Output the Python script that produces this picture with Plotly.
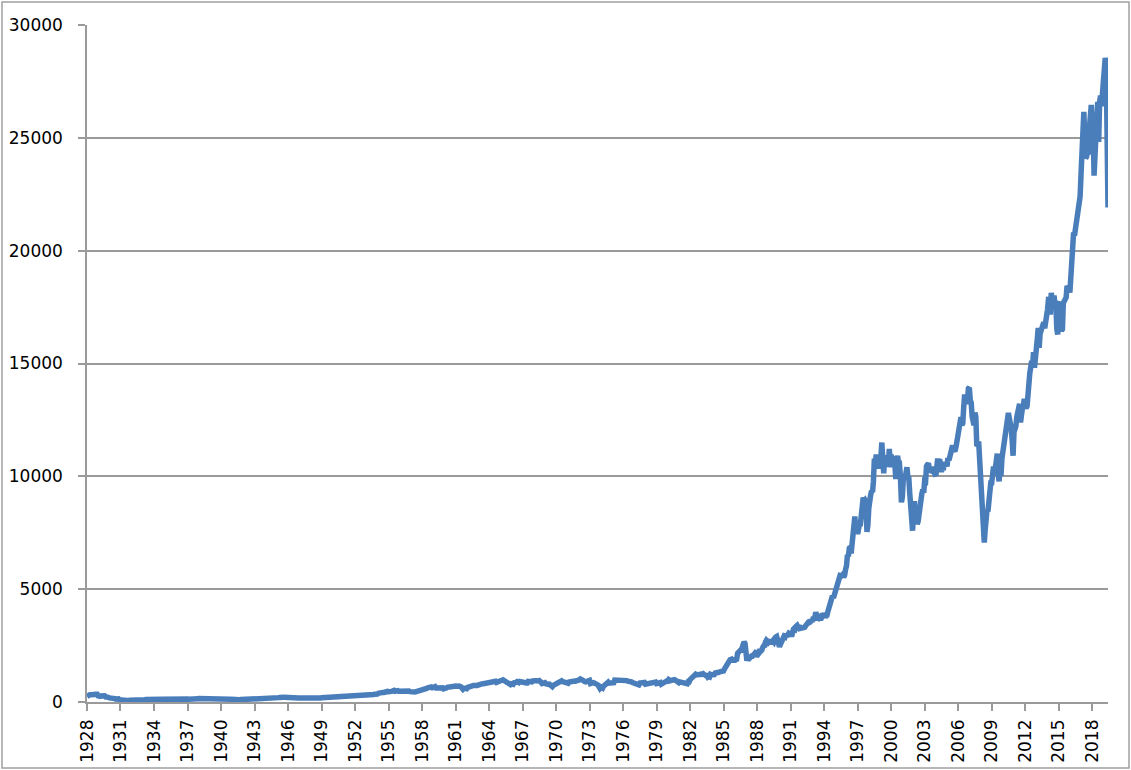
import pandas as pd
import plotly.graph_objects as go

# Monthly closing values (Oct 1928 - Mar 2020)
dow_1920s = [252, 293, 300,
             317, 317, 308, 319, 297, 333, 347, 380, 343, 273, 238, 248]
dow_1930s = [267, 271, 286, 279, 275, 226, 233, 240, 204, 183, 183, 165,
             167, 190, 172, 151, 128, 150, 135, 140, 96, 105, 93, 78,
             76, 82, 73, 56, 45, 43, 54, 73, 72, 61, 56, 60,
             61, 51, 56, 77, 89, 98, 90, 102, 94, 88, 98, 99,
             107, 104, 101, 100, 92, 95, 88, 92, 92, 93, 102, 104,
             102, 100, 100, 109, 110, 118, 126, 127, 131, 139, 142, 144,
             149, 152, 156, 145, 152, 157, 164, 166, 167, 177, 182, 180,
             185, 187, 186, 174, 175, 170, 185, 177, 154, 138, 123, 121,
             121, 129, 99, 111, 107, 134, 142, 139, 141, 151, 149, 155,
             144, 147, 132, 128, 138, 131, 143, 135, 153, 151, 146, 150]
dow_1940s = [146, 147, 148, 149, 116, 122, 126, 128, 132, 134, 131, 131,
             124, 121, 123, 116, 116, 123, 128, 127, 127, 118, 115, 111,
             109, 106, 100, 96, 101, 104, 106, 107, 109, 115, 114, 119,
             125, 131, 136, 135, 142, 143, 136, 137, 140, 138, 129, 136,
             137, 136, 138, 136, 142, 148, 146, 147, 146, 146, 147, 152,
             153, 160, 154, 165, 169, 165, 162, 174, 181, 186, 192, 193,
             204, 190, 200, 207, 212, 205, 201, 189, 172, 169, 170, 177,
             180, 178, 177, 171, 169, 178, 183, 178, 178, 182, 180, 181,
             175, 167, 177, 180, 191, 189, 181, 181, 178, 189, 171, 177,
             179, 173, 177, 174, 168, 168, 175, 179, 182, 189, 191, 200]
dow_1950s = [201, 203, 206, 214, 223, 209, 209, 217, 226, 225, 227, 235,
             249, 252, 248, 259, 250, 242, 258, 270, 271, 262, 261, 269,
             271, 260, 270, 258, 263, 274, 280, 275, 271, 269, 284, 292,
             290, 284, 280, 275, 272, 268, 275, 261, 264, 276, 281, 281,
             292, 295, 304, 319, 328, 334, 348, 336, 361, 352, 387, 404,
             409, 412, 409, 426, 425, 451, 466, 468, 467, 455, 483, 488,
             470, 484, 512, 516, 478, 493, 518, 502, 475, 480, 473, 500,
             480, 465, 475, 495, 505, 503, 509, 484, 457, 441, 450, 436,
             450, 440, 447, 456, 463, 478, 503, 509, 532, 543, 558, 584,
             594, 603, 602, 624, 644, 644, 675, 664, 632, 647, 659, 679]
dow_1960s = [623, 631, 616, 601, 625, 641, 617, 626, 580, 580, 597, 616,
             648, 662, 677, 678, 697, 684, 705, 719, 701, 704, 722, 731,
             700, 708, 706, 665, 613, 561, 598, 609, 579, 590, 649, 652,
             683, 662, 682, 718, 727, 707, 695, 729, 733, 755, 751, 763,
             785, 800, 813, 811, 821, 832, 841, 839, 875, 873, 875, 874,
             903, 904, 889, 922, 918, 868, 882, 893, 931, 961, 947, 969,
             984, 951, 924, 933, 884, 870, 847, 788, 774, 807, 792, 786,
             850, 839, 866, 897, 852, 860, 904, 901, 927, 880, 875, 905,
             856, 841, 840, 912, 899, 898, 883, 896, 936, 952, 985, 944,
             946, 905, 936, 950, 937, 873, 816, 837, 813, 856, 812, 800]
dow_1970s = [744, 778, 786, 736, 700, 684, 734, 765, 761, 756, 794, 839,
             869, 879, 904, 942, 908, 891, 858, 898, 887, 839, 831, 890,
             902, 928, 941, 954, 961, 929, 925, 964, 953, 956, 1018, 1020,
             999, 955, 951, 921, 901, 891, 926, 888, 947, 957, 822, 851,
             856, 861, 847, 837, 802, 802, 757, 679, 608, 666, 619, 616,
             704, 739, 768, 821, 832, 879, 832, 835, 794, 836, 860, 852,
             975, 973, 1000, 997, 975, 1003, 985, 974, 991, 965, 947, 1005,
             954, 948, 922, 927, 899, 916, 891, 862, 848, 818, 830, 831,
             770, 742, 757, 837, 841, 819, 862, 877, 866, 793, 799, 805,
             839, 809, 862, 855, 822, 842, 847, 888, 879, 816, 822, 839]
dow_1980s = [876, 863, 786, 817, 851, 868, 935, 933, 932, 925, 993, 964,
             947, 975, 1004, 998, 992, 977, 952, 882, 850, 853, 889, 875,
             871, 824, 823, 848, 820, 812, 809, 901, 896, 992, 1039, 1047,
             1076, 1113, 1130, 1226, 1200, 1222, 1199, 1216, 1233, 1225, 1276, 1259,
             1221, 1155, 1165, 1171, 1105, 1132, 1115, 1224, 1207, 1207, 1189, 1212,
             1287, 1284, 1267, 1258, 1315, 1336, 1348, 1334, 1329, 1375, 1472, 1547,
             1571, 1710, 1819, 1784, 1877, 1893, 1775, 1898, 1768, 1878, 1914, 1896,
             2158, 2224, 2305, 2286, 2292, 2419, 2572, 2663, 2596, 1994, 1834, 1939,
             1958, 2072, 1988, 2032, 2031, 2142, 2129, 2032, 2113, 2149, 2114, 2169,
             2342, 2258, 2294, 2419, 2480, 2440, 2661, 2737, 2693, 2645, 2706, 2753]
dow_1990s = [2591, 2627, 2707, 2657, 2877, 2881, 2905, 2614, 2453, 2442, 2560, 2634,
             2736, 2882, 2914, 2888, 3028, 2907, 3025, 3044, 3017, 3069, 2895, 3169,
             3224, 3267, 3236, 3359, 3397, 3319, 3394, 3257, 3272, 3226, 3305, 3301,
             3310, 3371, 3435, 3428, 3527, 3516, 3540, 3651, 3555, 3681, 3684, 3754,
             3978, 3832, 3636, 3682, 3758, 3625, 3765, 3913, 3843, 3908, 3739, 3834,
             3844, 4011, 4158, 4321, 4465, 4556, 4709, 4611, 4789, 4756, 5075, 5117,
             5395, 5486, 5588, 5569, 5643, 5655, 5529, 5616, 5882, 6029, 6522, 6448,
             6813, 6878, 6584, 7009, 7331, 7673, 8223, 7622, 7945, 7442, 7823, 7908,
             7907, 8546, 8800, 9063, 8900, 8952, 8883, 7539, 7843, 8592, 9117, 9181,
             9359, 9307, 9786, 10789, 10560, 10971, 10655, 10829, 10337, 10729, 10878, 11497]
dow_2000s = [10941, 10128, 10922, 10734, 10522, 10448, 10522, 11215, 10651, 10971, 10415, 10788,
             10887, 10495, 9879, 10735, 10912, 10502, 10523, 9950, 8848, 9075, 9852, 10022,
             9920, 10106, 10404, 9946, 9925, 9243, 8737, 8664, 7592, 8397, 8896, 8342,
             8054, 7891, 7992, 8480, 8850, 8985, 9234, 9416, 9275, 9801, 9782, 10454,
             10488, 10584, 10358, 10226, 10188, 10435, 10140, 10174, 10080, 10027, 10428, 10783,
             10490, 10766, 10504, 10193, 10467, 10275, 10641, 10482, 10569, 10440, 10806, 10718,
             10865, 10993, 11109, 11367, 11168, 11150, 11186, 11381, 11679, 12081, 12222, 12463,
             12622, 12269, 12354, 13063, 13628, 13409, 13212, 13358, 13896, 13930, 13372, 13265,
             12650, 12266, 12263, 12820, 12638, 11350, 11378, 11544, 10851, 9325, 8829, 8776,
             8001, 7063, 7609, 8168, 8500, 8447, 9172, 9496, 9712, 9713, 10345, 10428]
dow_2010s = [10067, 10325, 10857, 11009, 10137, 9774, 10466, 10015, 10788, 11118, 11006, 11578,
             11892, 12226, 12320, 12811, 12570, 12414, 12143, 11614, 10913, 11955, 12046, 12218,
             12633, 12952, 13212, 13214, 12393, 12880, 13009, 13091, 13437, 13096, 13026, 13104,
             13861, 14054, 14579, 14840, 15116, 14910, 15500, 14810, 15130, 15546, 16086, 16577,
             15699, 16322, 16458, 16581, 16717, 16827, 16563, 17098, 17043, 17391, 17828, 17823,
             17165, 18133, 17776, 17841, 18011, 17620, 17690, 16528, 16285, 17664, 17720, 17425,
             16466, 16517, 17685, 17774, 17787, 17930, 18432, 18401, 18308, 18142, 19124, 19763,
             19864, 20812, 20663, 20941, 21009, 21350, 21891, 21948, 22405, 23377, 24272, 24719,
             26149, 25029, 24103, 24163, 24416, 24271, 25415, 25965, 26458, 25116, 25538, 23327,
             24999, 25916, 25929, 26593, 24815, 26600, 26864, 26403, 26917, 27046, 28051, 28538]
dow_2020s = [28256, 25409, 21917]

tick_years = [str(y) for y in range(1928, 2019, 3)]

values = (dow_1920s + dow_1930s + dow_1940s + dow_1950s + dow_1960s
          + dow_1970s + dow_1980s + dow_1990s + dow_2000s + dow_2010s + dow_2020s)
dates = pd.date_range("1928-10-01", periods=len(values), freq="MS")
tick_dates = [pd.Timestamp(f"{y}-10-01") for y in tick_years]

GRID = "#9a9a9a"
W, H = 1131, 770
L, R, T, B = 87, 23, 25, 68
PW, PH = W - L - R, H - T - B

fig = go.Figure(go.Scatter(
    x=dates, y=values, mode="lines",
    line=dict(color="#4a7ebb", width=5.5),
    hoverinfo="skip",
))

fig.update_layout(
    width=W, height=H,
    margin=dict(l=L, r=R, t=T, b=B, autoexpand=False),
    paper_bgcolor="white", plot_bgcolor="white",
    showlegend=False,
    font=dict(family="DejaVu Sans", size=17, color="black"),
)
fig.update_xaxes(
    range=[dates[0], dates[-1]],
    tickvals=tick_dates, ticktext=tick_years,
    tickangle=-90, ticks="outside", ticklen=7, tickwidth=1.5, tickcolor=GRID,
    showline=True, linecolor=GRID, linewidth=1.5,
    showgrid=False, zeroline=False, ticklabelstandoff=2, automargin=False,
)
fig.update_yaxes(
    range=[0, 30000], dtick=5000, tickformat="d",
    ticks="outside", ticklen=7, tickwidth=1.5, tickcolor=GRID,
    showline=True, linecolor=GRID, linewidth=1.5,
    showgrid=True, gridcolor=GRID, gridwidth=1.5, zeroline=False,
    ticklabelstandoff=12, automargin=False,
)
# outer chart border
fig.add_shape(type="rect", xref="paper", yref="paper",
              x0=(2 - L) / PW, x1=(W - 2 - L) / PW,
              y0=-(B - 2) / PH, y1=(H - B - 2) / PH,
              line=dict(color="#a0a0a0", width=1.5), layer="below")

fig.write_html("out.html", config={"displayModeBar": False},
               post_script="document.body.style.margin='0';document.body.style.overflow='hidden';")
